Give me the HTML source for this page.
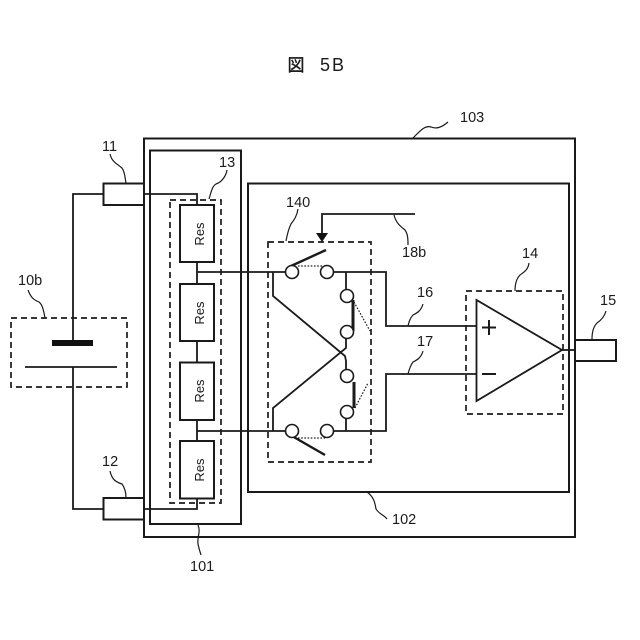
<!DOCTYPE html>
<html>
<head>
<meta charset="utf-8">
<style>
html,body{margin:0;padding:0;background:#fff;}
svg{display:block;}
text{font-family:"Liberation Sans","Noto Sans CJK JP",sans-serif;fill:#1a1a1a;font-size:14.5px;}
.b{fill:none;stroke:#1a1a1a;stroke-width:2;}
.t{fill:none;stroke:#1a1a1a;stroke-width:1.2;}
.d{fill:none;stroke:#1a1a1a;stroke-width:1.7;stroke-dasharray:6 4;}
.o{fill:none;stroke:#1a1a1a;stroke-width:1.2;stroke-dasharray:1.6 1.6;}
.k{fill:none;stroke:#1a1a1a;stroke-width:3;}
.c{fill:#fff;stroke:#1a1a1a;stroke-width:1.6;}
.w{fill:none;stroke:#1a1a1a;stroke-width:1.8;}
</style>
</head>
<body>
<svg width="640" height="640" viewBox="0 0 640 640" xmlns="http://www.w3.org/2000/svg">
<rect width="640" height="640" fill="#fff"/>

<text x="287.500" y="71" style="font-size:17px;stroke:#1a1a1a;stroke-width:0.4">図</text>
<text x="320" y="71" style="font-size:18px;letter-spacing:2px">5B</text>

<!-- Boxes -->
<rect class="b" x="144" y="138.500" width="431" height="398.500"/>
<rect class="b" x="150" y="150.500" width="91" height="373.500"/>
<rect class="b" x="248" y="183.500" width="321" height="308.500"/>
<rect class="b" x="103.500" y="183.500" width="40.500" height="21.500"/>
<rect class="b" x="103.500" y="498" width="40.500" height="21.500"/>
<rect class="b" x="575" y="340" width="41" height="21"/>

<!-- Battery -->
<rect class="d" x="11" y="318" width="116" height="69"/>
<path class="w" d="M103 194H73V340M73 367V509H103"/>
<rect x="52" y="340" width="41" height="6" fill="#111"/>
<path class="w" d="M25 367H117"/>

<!-- Resistors -->
<rect class="d" x="170" y="200" width="51" height="303"/>
<rect class="b" x="180" y="205" width="34" height="57"/>
<rect class="b" x="180" y="284" width="34" height="57"/>
<rect class="b" x="180" y="362.500" width="34" height="57.500"/>
<rect class="b" x="180" y="441" width="34" height="57.500"/>
<path class="w" d="M144 194H197V205M197 262V284M197 341V362M197 420V441M197 499V509H144"/>
<text transform="translate(204,234) rotate(-90)" text-anchor="middle" style="font-size:13px">Res</text>
<text transform="translate(204,313) rotate(-90)" text-anchor="middle" style="font-size:13px">Res</text>
<text transform="translate(204,391) rotate(-90)" text-anchor="middle" style="font-size:13px">Res</text>
<text transform="translate(204,470) rotate(-90)" text-anchor="middle" style="font-size:13px">Res</text>

<!-- Switch matrix -->
<rect class="d" x="268" y="242" width="103" height="220"/>
<path class="w" d="M197 272H286M333 272H386V326H476M197 431H286M333 431H386V374H476"/>
<path class="w" d="M273 272V296L345 356L346 361V370M273 431V408L346 348V338M346 272V290M346 431V418"/>
<path class="k" style="stroke-width:2.400" d="M291 266L326 250M292 436L325 455"/>
<path class="k" d="M353 300V331M354 382V408"/>
<path class="o" d="M298 266H322M298 438H325M354 302L370 331M355 408L368 383"/>
<circle class="c" cx="292" cy="272" r="6.500"/>
<circle class="c" cx="327" cy="272" r="6.500"/>
<circle class="c" cx="347" cy="296" r="6.500"/>
<circle class="c" cx="347" cy="332" r="6.500"/>
<circle class="c" cx="347" cy="376" r="6.500"/>
<circle class="c" cx="347" cy="412" r="6.500"/>
<circle class="c" cx="292" cy="431" r="6.500"/>
<circle class="c" cx="327" cy="431" r="6.500"/>

<!-- Control line -->
<path class="w" d="M415 214H322V234"/>
<path d="M316 233H328L322 242Z" fill="#111"/>

<!-- Amp -->
<rect class="d" x="466" y="291" width="97" height="123"/>
<path class="w" style="fill:#fff" d="M476.500 300V401L562 350Z"/>
<path class="w" d="M562 350H575"/>
<path class="b" d="M489 320V335M482 327.500H496M482 374H496"/>

<!-- Leaders -->
<path class="t" d="M413 138C420 131 425 125 431 127C436 129 441 128 448 122"/>
<path class="t" d="M110 154C112 162 116 163 122 168C125 172 125 178 126 183"/>
<path class="t" d="M227 170C226 176 222 182 216 184C212 186 211 193 209 199"/>
<path class="t" d="M298 209C297 216 294 220 291 224C288 230 287 236 286 241"/>
<path class="t" d="M394 215C396 223 400 226 405 230C408 234 408 240 408 245"/>
<path class="t" d="M529 263C528 270 524 272 520 275C516 279 515 286 515 291"/>
<path class="t" d="M423 304C421 311 417 313 413 315C410 318 409 322 408 326"/>
<path class="t" d="M423 351C421 358 417 360 413 362C410 366 409 370 408 374"/>
<path class="t" d="M606 311C604 318 600 321 597 323C593 327 592 334 592 339"/>
<path class="t" d="M28 290C31 298 34 300 39 302C43 305 44 313 45 318"/>
<path class="t" d="M110 471C112 480 116 482 122 484C125 488 126 494 126 498"/>
<path class="t" d="M198 525C201 532 197 537 198 544C199 549 200 552 201 555"/>
<path class="t" d="M367 492C374 497 375 503 376 509C379 514 384 515 387 519"/>

<!-- Labels -->
<text x="102" y="151">11</text>
<text x="219" y="167">13</text>
<text x="460" y="122">103</text>
<text x="286" y="207">140</text>
<text x="402" y="257">18b</text>
<text x="522" y="258">14</text>
<text x="417" y="297">16</text>
<text x="417" y="346">17</text>
<text x="600" y="305">15</text>
<text x="18" y="285">10b</text>
<text x="102" y="466">12</text>
<text x="190" y="571">101</text>
<text x="392" y="524">102</text>
</svg>
</body>
</html>
